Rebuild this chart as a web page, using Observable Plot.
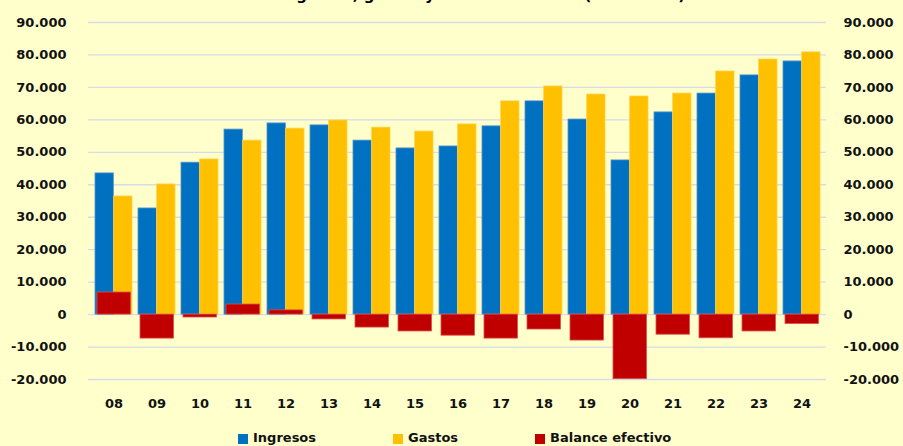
<!DOCTYPE html>
<html><head><meta charset="utf-8">
<script src="https://cdn.jsdelivr.net/npm/d3@7"></script>
<script src="https://cdn.jsdelivr.net/npm/@observablehq/plot@0.6"></script>
<style>
html,body{margin:0;padding:0;background:#FFFFCC;}
body{width:903px;height:446px;overflow:hidden;position:relative;font-family:"DejaVu Sans",sans-serif;}
#title{position:absolute;left:280px;top:-15px;font-weight:bold;font-size:15px;line-height:20px;white-space:nowrap;color:#000;}
#chart{position:absolute;left:0;top:0;}
.lg{position:absolute;top:430px;font-weight:bold;font-size:13px;line-height:16px;color:#111;white-space:nowrap;}
.sw{position:absolute;top:4px;width:10px;height:10px;}
</style>
</head><body>
<div id="title">Ingresos, gastos y balance efectivo (millones €)</div>
<div id="chart"></div>
<div id="legend"></div>
<script>
const years = ["08","09","10","11","12","13","14","15","16","17","18","19","20","21","22","23","24"];
const ingresos = [43500,32700,46800,57000,58900,58300,53600,51200,51800,58000,65700,60100,47500,62300,68100,73700,78000];
const gastos = [36400,40100,47800,53600,57300,59800,57600,56400,58600,65700,70300,67800,67200,68100,74900,78600,80800];
const balance = [6800,-7400,-900,3100,1300,-1500,-4000,-5200,-6500,-7400,-4600,-8000,-19900,-6200,-7300,-5200,-2900];
const yTicks = [-20000,-10000,0,10000,20000,30000,40000,50000,60000,70000,80000,90000];
const seriesNames = ["Ingresos","Gastos","Balance efectivo"];
const seriesColors = ["#0070C0","#FFC000","#C00000"];

const rows = years.map((y,i)=>({year:y, ing:ingresos[i], gas:gastos[i], bal:balance[i]}));
const loc = d3.formatLocale({decimal:",",thousands:".",grouping:[3],currency:["","€"],minus:"-"});
const fmt = loc.format(",");

const W = 903, H = 446, mL = 88, mR = 77;
const pInner = 0.14;
const step = (W - mL - mR) / years.length;
const half = step * (1 - pInner) / 2;

const chart = Plot.plot({
  width: W, height: H,
  marginTop: 22, marginBottom: 67, marginLeft: mL, marginRight: mR,
  style: {background: "transparent", fontFamily: "DejaVu Sans", fontSize: "13px", fontWeight: "bold", color: "#111"},
  x: {type: "band", domain: years, paddingInner: pInner, paddingOuter: pInner/2},
  y: {domain: [-20000, 90000]},
  marks: [
    Plot.ruleY(yTicks, {stroke: "#D6DBE6", strokeWidth: 1.3}),
    Plot.barY(rows, {x: "year", y: "ing", fill: seriesColors[0], stroke: "#4F93D2", strokeWidth: 0.8, insetRight: half}),
    Plot.barY(rows, {x: "year", y: "gas", fill: seriesColors[1], stroke: "#FFD24D", strokeWidth: 0.8, insetLeft: half}),
    Plot.barY(rows, {x: "year", y: "bal", fill: seriesColors[2], stroke: "#D85050", strokeWidth: 0.8, insetLeft: 2, insetRight: 1.5}),
    Plot.axisY({anchor: "left", ticks: yTicks, tickSize: 0, tickPadding: 22, tickFormat: fmt, label: null}),
    Plot.axisY({anchor: "right", ticks: yTicks, tickSize: 0, tickPadding: 17, tickFormat: fmt, label: null}),
    Plot.axisX({tickSize: 0, tickPadding: 19, label: null})
  ]
});
document.getElementById("chart").appendChild(chart);

const legendPos = [238, 393, 535];
const lg = document.getElementById("legend");
seriesNames.forEach((n,i)=>{
  const d = document.createElement("div");
  d.className = "lg";
  d.style.left = legendPos[i] + "px";
  d.style.paddingLeft = "15px";
  d.innerHTML = `<span class="sw" style="left:0;background:${seriesColors[i]}"></span>${n}`;
  lg.appendChild(d);
});
</script>
</body></html>
